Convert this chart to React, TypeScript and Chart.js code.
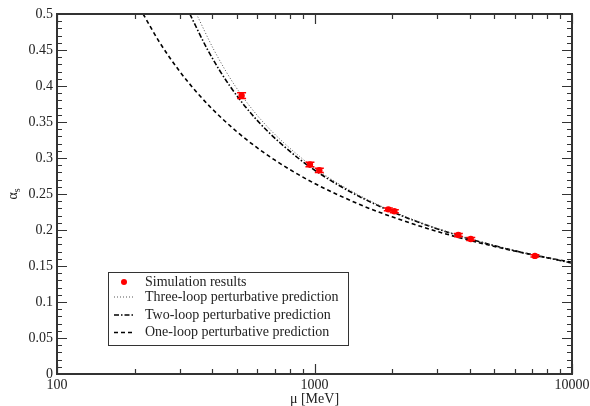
import React, { useEffect, useRef } from "react";
import { Chart, registerables } from "chart.js";
Chart.register(...registerables);

// Simulation results (μ in MeV, α_s, error)
const simMu = [521, 960, 1044, 1935, 2042, 3619, 4044, 7178];
const simAlpha = [0.3865, 0.291, 0.2829, 0.2287, 0.226, 0.193, 0.1875, 0.164];
const simErr = [0.004, 0.003, 0.003, 0.002, 0.002, 0.002, 0.002, 0.0015];

// Perturbative predictions
const oneLoopMu = [216, 250, 300, 350, 400, 500, 600, 700, 800, 1000, 1500, 2000, 3000, 4000, 5000, 7000, 10000];
const oneLoopAlpha = [0.5, 0.4609, 0.42, 0.3907, 0.3684, 0.3363, 0.314, 0.2973, 0.2842, 0.2647, 0.2354, 0.2183, 0.1979, 0.1857, 0.1772, 0.1657, 0.1551];

const twoLoopMu = [328, 385, 469, 607, 863, 1084, 1430, 2010, 3093, 5412, 10000];
const twoLoopAlpha = [0.5, 0.45, 0.4, 0.35, 0.3, 0.275, 0.25, 0.225, 0.2, 0.175, 0.1541];

const threeLoopMu = [348, 407, 492, 631, 890, 1111, 1459, 2040, 3123, 5436, 10000];
const threeLoopAlpha = [0.5, 0.45, 0.4, 0.35, 0.3, 0.275, 0.25, 0.225, 0.2, 0.175, 0.1541];

// Axes
const xTickValues = [100, 1000, 10000];
const xTickLabels = ["100", "1000", "10000"];
const xMinorValues = [200, 300, 400, 500, 600, 700, 800, 900, 2000, 3000, 4000, 5000, 6000, 7000, 8000, 9000];
const yTickValues = [0, 0.05, 0.1, 0.15, 0.2, 0.25, 0.3, 0.35, 0.4, 0.45, 0.5];
const yTickLabels = ["0", "0.05", "0.1", "0.15", "0.2", "0.25", "0.3", "0.35", "0.4", "0.45", "0.5"];
const yMinorStep = 0.01;

const legendLabels = [
  "Simulation results",
  "Three-loop perturbative prediction",
  "Two-loop perturbative prediction",
  "One-loop perturbative prediction",
];

const FONT = "'Liberation Serif', 'Times New Roman', serif";

const decorPlugin = {
  id: "decor",
  afterDatasetsDraw(chart: any) {
    const { ctx, scales } = chart;
    const xs = scales.x, ys = scales.y;
    ctx.save();
    ctx.strokeStyle = "#ff0000";
    ctx.lineWidth = 1.5;
    simMu.forEach((m, i) => {
      const px = xs.getPixelForValue(m);
      const y1 = ys.getPixelForValue(simAlpha[i] + simErr[i]);
      const y2 = ys.getPixelForValue(simAlpha[i] - simErr[i]);
      ctx.beginPath();
      ctx.moveTo(px, y1); ctx.lineTo(px, y2);
      ctx.moveTo(px - 4.5, y1); ctx.lineTo(px + 4.5, y1);
      ctx.moveTo(px - 4.5, y2); ctx.lineTo(px + 4.5, y2);
      ctx.stroke();
    });
    ctx.restore();
  },
  afterDraw(chart: any) {
    const { ctx, chartArea: a, scales } = chart;
    const xs = scales.x, ys = scales.y;
    ctx.save();
    // inward ticks
    ctx.strokeStyle = "#333";
    ctx.lineWidth = 1.2;
    ctx.beginPath();
    const xTick = (v: number, len: number) => {
      const px = Math.round(xs.getPixelForValue(v)) + 0.5;
      ctx.moveTo(px, a.bottom); ctx.lineTo(px, a.bottom - len);
      ctx.moveTo(px, a.top); ctx.lineTo(px, a.top + len);
    };
    xTickValues.forEach(v => xTick(v, 10));
    xMinorValues.forEach(v => xTick(v, 5));
    const yTick = (v: number, len: number) => {
      const py = Math.round(ys.getPixelForValue(v)) + 0.5;
      ctx.moveTo(a.left, py); ctx.lineTo(a.left + len, py);
      ctx.moveTo(a.right, py); ctx.lineTo(a.right - len, py);
    };
    yTickValues.forEach(v => yTick(v, 10));
    for (let i = 0; i <= 50; i++) {
      if (i % 5 !== 0) yTick(i * yMinorStep, 5);
    }
    ctx.stroke();
    // frame
    ctx.lineWidth = 2;
    ctx.strokeStyle = "#333";
    ctx.strokeRect(a.left, a.top, a.right - a.left, a.bottom - a.top);

    // legend
    const lx = 108.5, ly = 272.5, lw = 240, lh = 73;
    ctx.fillStyle = "#fff";
    ctx.fillRect(lx, ly, lw, lh);
    ctx.lineWidth = 1;
    ctx.strokeStyle = "#333";
    ctx.strokeRect(lx, ly, lw, lh);
    const rows = [282, 297, 315, 332.5];
    ctx.fillStyle = "#ff0000";
    ctx.beginPath();
    ctx.arc(124, rows[0], 3, 0, Math.PI * 2);
    ctx.fill();
    const sample = (y: number, dash: number[], w: number, col: string) => {
      ctx.setLineDash(dash);
      ctx.lineWidth = w;
      ctx.strokeStyle = col;
      ctx.beginPath();
      ctx.moveTo(114, y); ctx.lineTo(135, y);
      ctx.stroke();
    };
    sample(rows[1], [1, 2], 1, "#555");
    sample(rows[2], [5, 2, 1.5, 2], 1.6, "#000");
    sample(rows[3], [4, 3], 1.6, "#000");
    ctx.setLineDash([]);
    ctx.fillStyle = "#222";
    ctx.font = `14px ${FONT}`;
    ctx.textBaseline = "middle";
    ctx.textAlign = "left";
    legendLabels.forEach((t, i) => ctx.fillText(t, 145, rows[i]));

    // x title
    ctx.textAlign = "center";
    ctx.textBaseline = "alphabetic";
    ctx.fillText("μ [MeV]", (a.left + a.right) / 2, 403);

    // y title  α_s (rotated)
    ctx.translate(17, (a.top + a.bottom) / 2);
    ctx.rotate(-Math.PI / 2);
    ctx.textAlign = "left";
    ctx.font = `14px ${FONT}`;
    const wA = ctx.measureText("α").width;
    ctx.font = `10px ${FONT}`;
    const wS = ctx.measureText("s").width;
    const start = -(wA + wS) / 2;
    ctx.font = `14px ${FONT}`;
    ctx.fillText("α", start, 0);
    ctx.font = `10px ${FONT}`;
    ctx.fillText("s", start + wA, 3);
    ctx.restore();
  },
};

export default function App() {
  const ref = useRef<HTMLCanvasElement>(null);
  useEffect(() => {
    if (!ref.current) return;
    const toXY = (xs: number[], ys: number[]) => xs.map((x, i) => ({ x, y: ys[i] }));
    const chart = new Chart(ref.current, {
      type: "scatter",
      data: {
        datasets: [
          {
            label: legendLabels[0],
            data: toXY(simMu, simAlpha),
            pointRadius: 3.2,
            pointBackgroundColor: "#ff0000",
            pointBorderColor: "#ff0000",
            pointBorderWidth: 0,
            showLine: false,
          },
          {
            label: legendLabels[1],
            data: toXY(threeLoopMu, threeLoopAlpha),
            showLine: true,
            pointRadius: 0,
            borderColor: "#555",
            borderWidth: 1,
            borderDash: [1, 2],
            cubicInterpolationMode: "monotone",
          },
          {
            label: legendLabels[2],
            data: toXY(twoLoopMu, twoLoopAlpha),
            showLine: true,
            pointRadius: 0,
            borderColor: "#000",
            borderWidth: 1.6,
            borderDash: [5, 2, 1.5, 2],
            cubicInterpolationMode: "monotone",
          },
          {
            label: legendLabels[3],
            data: toXY(oneLoopMu, oneLoopAlpha),
            showLine: true,
            pointRadius: 0,
            borderColor: "#000",
            borderWidth: 1.6,
            borderDash: [4, 3],
            cubicInterpolationMode: "monotone",
          },
        ],
      },
      options: {
        responsive: false,
        animation: false,
        devicePixelRatio: 1,
        layout: { padding: { top: 14, right: 18, left: 0, bottom: 0 } },
        plugins: { legend: { display: false }, tooltip: { enabled: false } },
        scales: {
          x: {
            type: "logarithmic",
            min: 100,
            max: 10000,
            grid: { display: false, drawTicks: false },
            border: { display: false },
            afterBuildTicks: (s: any) => {
              s.ticks = xTickValues.map(v => ({ value: v }));
            },
            afterFit: (s: any) => {
              s.height = 32;
              s.paddingLeft = 0;
              s.paddingRight = 0;
            },
            ticks: {
              autoSkip: false,
              maxRotation: 0,
              padding: 3,
              color: "#222",
              font: { family: FONT, size: 14 },
              callback: (_v: any, i: number) => xTickLabels[i],
            },
          },
          y: {
            min: 0,
            max: 0.5,
            grid: { display: false, drawTicks: false },
            border: { display: false },
            afterBuildTicks: (s: any) => {
              s.ticks = yTickValues.map(v => ({ value: v }));
            },
            afterFit: (s: any) => {
              s.width = 57;
              s.paddingTop = 0;
              s.paddingBottom = 0;
            },
            ticks: {
              autoSkip: false,
              padding: 4,
              color: "#222",
              font: { family: FONT, size: 14 },
              callback: (_v: any, i: number) => yTickLabels[i],
            },
          },
        },
      },
      plugins: [decorPlugin],
    } as any);
    return () => chart.destroy();
  }, []);
  return (
    <div style={{ position: "fixed", left: 0, top: 0, width: 590, height: 406, background: "#fff" }}>
      <canvas ref={ref} width={590} height={406} />
    </div>
  );
}
